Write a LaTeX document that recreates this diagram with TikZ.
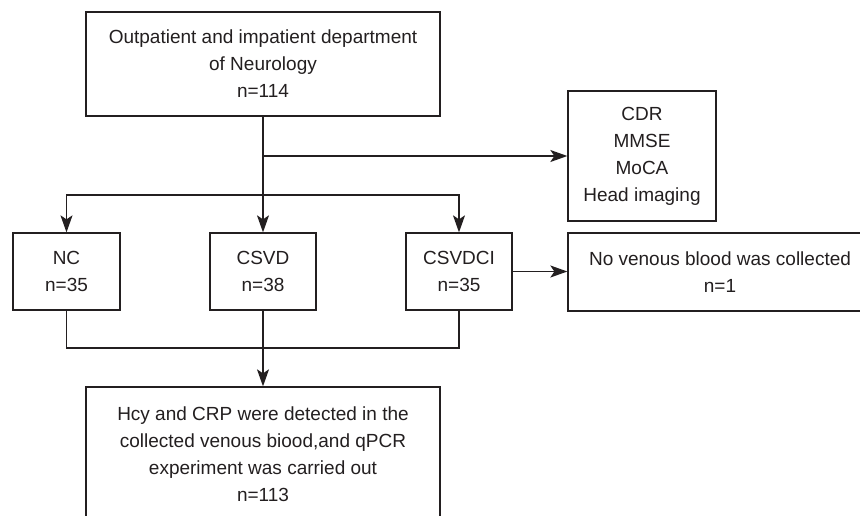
\documentclass[tikz,border=0pt]{standalone}
\usepackage{fontspec}
\setmainfont{Liberation Sans}
\usetikzlibrary{arrows.meta}
\definecolor{ln}{RGB}{35,31,32}
\begin{document}
\begin{tikzpicture}[x=1pt,y=-1pt,
  box/.style={draw=ln, line width=1.3pt, inner sep=0pt, align=center,
    font=\fontsize{19}{27}\selectfont, text=ln},
  arr/.style={draw=ln, line width=1.3pt, -{Stealth[length=17pt,width=12pt,inset=4pt]}},
  ln/.style={draw=ln, line width=1.3pt}]
\fill[white] (0,0) rectangle (860,515);
\useasboundingbox (0,0) rectangle (860,515);
\node[box, minimum width=354pt, minimum height=104pt] (top) at (263,64)
  {Outpatient and impatient department\\of Neurology\\n=114};
\node[box, minimum width=148pt, minimum height=130pt] (cdr) at (642,156)
  {CDR\\MMSE\\MoCA\\Head imaging};
\node[box, minimum width=107pt, minimum height=77pt] (nc) at (66.5,271.5) {NC\\n=35};
\node[box, minimum width=106pt, minimum height=77pt] (csvd) at (263,271.5) {CSVD\\n=38};
\node[box, minimum width=106pt, minimum height=77pt] (csvdci) at (459,271.5) {CSVDCI\\n=35};
\node[box, minimum width=304pt, minimum height=78pt] (nov) at (720,272) {No venous blood was collected\\n=1};
\node[box, minimum width=354pt, minimum height=134pt] (bot) at (263,454)
  {Hcy and CRP were detected in the\\collected venous biood,and qPCR\\experiment was carried out\\n=113};
\coordinate (split) at (263,195);
\coordinate (join) at (263,348);
\draw[arr] (top.south) -- (csvd.north);
\draw[arr] (top.south |- cdr.west) -- (cdr.west);
\draw[arr] (split) -| (nc.north);
\draw[arr] (split) -| (csvdci.north);
\draw[arr] (csvdci.east) -- (nov.west |- csvdci.east);
\draw[ln] (nc.south) |- (join) -| (csvdci.south);
\draw[arr] (csvd.south) -- (bot.north);
\end{tikzpicture}
\end{document}
